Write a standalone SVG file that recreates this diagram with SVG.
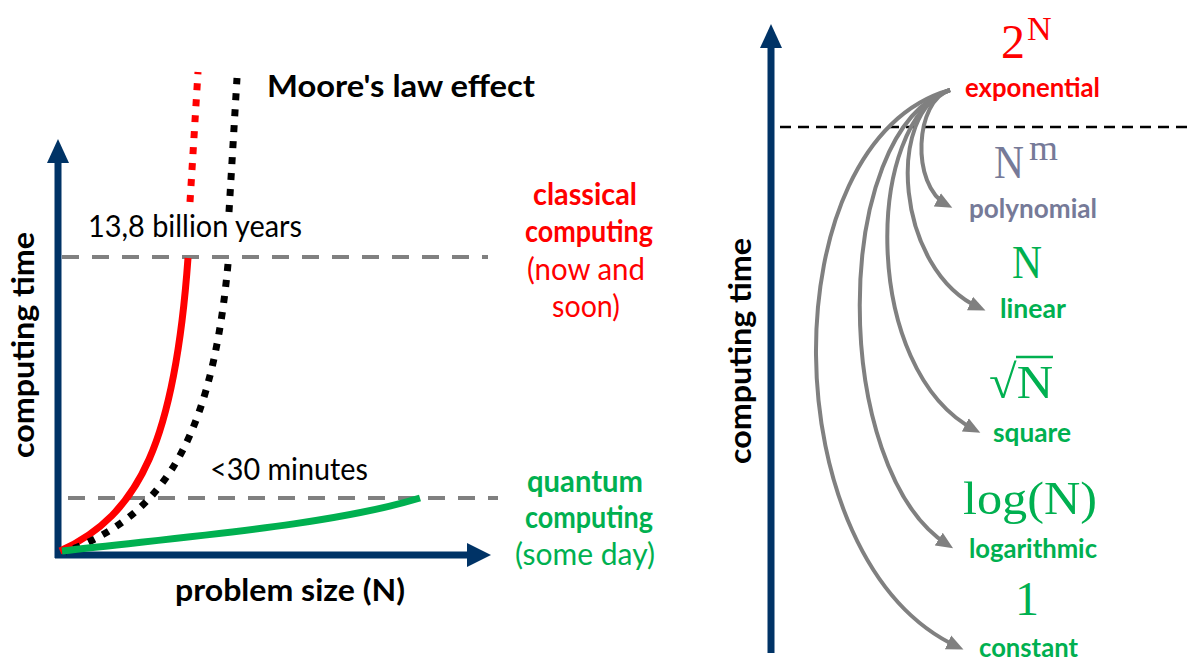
<svg xmlns="http://www.w3.org/2000/svg" width="1191" height="664" viewBox="0 0 1191 664">
<style>
.lbl{font-family:Lato,"Liberation Sans",sans-serif;}
.b{font-weight:bold;}
.math{font-family:"Liberation Serif","DejaVu Serif",serif;}
.red{fill:#FF0000;}
.grn{fill:#00B050;}
.blk{fill:#000000;}
.pol{fill:#767A98;}
.axis{stroke:#003366;stroke-width:7;fill:none;}
.axhead{fill:#003366;}
.gdash{stroke:#808080;stroke-width:4;stroke-dasharray:17 13;fill:none;}
.dot{stroke-width:7;stroke-dasharray:7 9;fill:none;}
.conn{stroke:#808080;stroke-width:4;fill:none;marker-end:url(#ah);}
</style>
<defs>
<marker id="ah" markerUnits="userSpaceOnUse" markerWidth="18" markerHeight="16" refX="11" refY="7.5" orient="auto" viewBox="0 0 18 15">
<path d="M0,0 L17,7.5 L0,15 z" fill="#808080"/>
</marker>
</defs>
<rect width="1191" height="664" fill="#ffffff"/>

<!-- LEFT PANEL -->
<g id="left-axes">
<line class="axis" x1="58" y1="160" x2="58" y2="558"/>
<polygon class="axhead" points="47,163 69,163 58,139"/>
<line class="axis" x1="55" y1="555" x2="470" y2="555"/>
<polygon class="axhead" points="467,543 467,567 491,555"/>
</g>
<g id="ref-lines">
<line class="gdash" x1="62" y1="257" x2="488" y2="257"/>
<line class="gdash" x1="68" y1="498" x2="498" y2="498"/>
</g>
<g id="curves">
<path d="M190,202 L198,72" class="dot" stroke="#FF0000"/>
<path d="M229,212 L237,78" class="dot" stroke="#000000"/>
<path d="M60,551 C140,515 175,440 188,258" stroke="#FF0000" stroke-width="7" fill="none"/>
<path d="M228,264 C210,460 150,520 65,552" class="dot" stroke="#000000"/>
<path d="M62,551 C200,535 330,525 420,498" stroke="#00B050" stroke-width="7" fill="none"/>
</g>
<g id="left-labels">
<text class="lbl b blk" x="267" y="97" font-size="31" textLength="268" lengthAdjust="spacingAndGlyphs">Moore's law effect</text>
<text class="lbl blk" x="88" y="237" font-size="30" textLength="214" lengthAdjust="spacingAndGlyphs">13,8 billion years</text>
<text class="lbl blk" x="210" y="480" font-size="30" textLength="158" lengthAdjust="spacingAndGlyphs">&lt;30 minutes</text>
<text class="lbl b red" x="533" y="205" font-size="30" textLength="104" lengthAdjust="spacingAndGlyphs">classical</text>
<text class="lbl b red" x="525" y="242" font-size="30" textLength="128" lengthAdjust="spacingAndGlyphs">computing</text>
<text class="lbl red" x="527" y="280" font-size="30" textLength="118" lengthAdjust="spacingAndGlyphs">(now and</text>
<text class="lbl red" x="552" y="317" font-size="30" textLength="68" lengthAdjust="spacingAndGlyphs">soon)</text>
<text class="lbl b grn" x="527" y="492" font-size="30" textLength="116" lengthAdjust="spacingAndGlyphs">quantum</text>
<text class="lbl b grn" x="525" y="528" font-size="30" textLength="128" lengthAdjust="spacingAndGlyphs">computing</text>
<text class="lbl grn" x="515" y="565" font-size="30" textLength="140" lengthAdjust="spacingAndGlyphs">(some day)</text>
<text class="lbl b blk" x="175" y="601" font-size="31" textLength="230" lengthAdjust="spacingAndGlyphs">problem size (N)</text>
<text class="lbl b blk" transform="translate(34,458) rotate(-90)" x="0" y="0" font-size="31" textLength="226" lengthAdjust="spacingAndGlyphs">computing time</text>
</g>

<!-- RIGHT PANEL -->
<g id="right-axis">
<line class="axis" x1="771" y1="45" x2="771" y2="653"/>
<polygon class="axhead" points="760,48 782,48 771,24"/>
<line x1="780" y1="127" x2="1191" y2="127" stroke="#000000" stroke-width="2.5" stroke-dasharray="11 7"/>
<text class="lbl b blk" transform="translate(751,464) rotate(-90)" x="0" y="0" font-size="31" textLength="226" lengthAdjust="spacingAndGlyphs">computing time</text>
</g>
<g id="connectors">
<path class="conn" d="M950,90 C915,100 910,185 947,205"/>
<path class="conn" d="M950,90 C885,110 895,270 980,308"/>
<path class="conn" d="M950,90 C865,120 860,370 975,430"/>
<path class="conn" d="M950,90 C830,130 830,470 948,545"/>
<path class="conn" d="M950,90 C770,140 770,560 958,647"/>
</g>
<g id="node-exponential">
<text class="math red" x="1001" y="58" font-size="48">2</text>
<text class="math red" x="1027" y="40" font-size="34">N</text>
<text class="lbl b red" x="965" y="97" font-size="27" textLength="135" lengthAdjust="spacingAndGlyphs">exponential</text>
</g>
<g id="node-polynomial">
<text class="math pol" x="994" y="178" font-size="47" textLength="30" lengthAdjust="spacingAndGlyphs">N</text>
<text class="math pol" x="1029" y="160" font-size="35" textLength="29" lengthAdjust="spacingAndGlyphs">m</text>
<text class="lbl b pol" x="969" y="218" font-size="27" textLength="128" lengthAdjust="spacingAndGlyphs">polynomial</text>
</g>
<g id="node-linear">
<text class="math grn" x="1012" y="278" font-size="47" textLength="30" lengthAdjust="spacingAndGlyphs">N</text>
<text class="lbl b grn" x="1000" y="318" font-size="27" textLength="66" lengthAdjust="spacingAndGlyphs">linear</text>
</g>
<g id="node-square">
<text class="math grn" x="989" y="398" font-size="47" textLength="64" lengthAdjust="spacingAndGlyphs">√N</text>
<line x1="1016" y1="357" x2="1053" y2="357" stroke="#00B050" stroke-width="2.5"/>
<text class="lbl b grn" x="993" y="442" font-size="27" textLength="78" lengthAdjust="spacingAndGlyphs">square</text>
</g>
<g id="node-logarithmic">
<text class="math grn" x="963" y="514" font-size="47" textLength="134" lengthAdjust="spacingAndGlyphs">log(N)</text>
<text class="lbl b grn" x="969" y="558" font-size="27" textLength="128" lengthAdjust="spacingAndGlyphs">logarithmic</text>
</g>
<g id="node-constant">
<text class="math grn" x="1015" y="615" font-size="48">1</text>
<text class="lbl b grn" x="979" y="657" font-size="26" textLength="99" lengthAdjust="spacingAndGlyphs">constant</text>
</g>
</svg>
